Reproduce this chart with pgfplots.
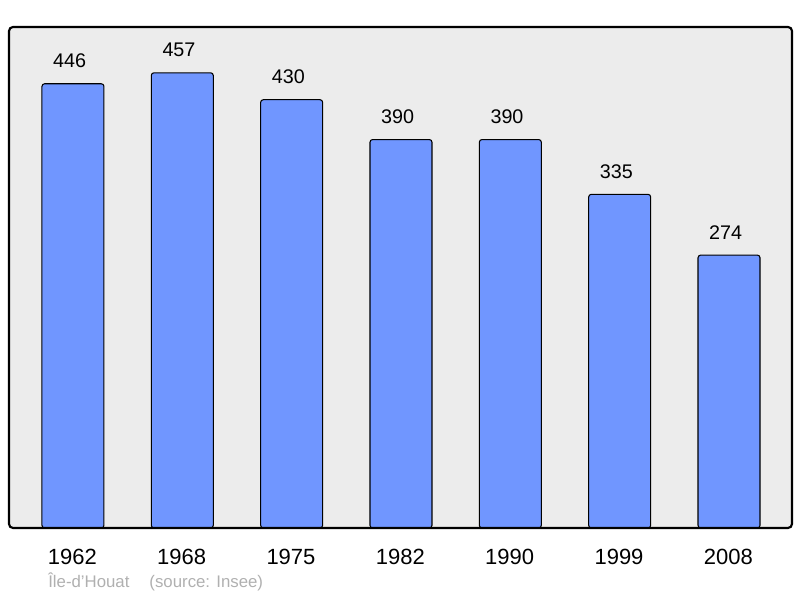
\documentclass[border=0pt]{standalone}
\usepackage{pgfplots}
\pgfplotsset{compat=1.18}
\usepackage{fontspec}
\setmainfont{Liberation Sans}
\definecolor{barblue}{RGB}{112,150,255}
\definecolor{bggray}{RGB}{236,236,236}
\definecolor{footgray}{RGB}{176,176,176}
\begin{document}
\begin{tikzpicture}
% page is 800x598 px at 0.75pt per px
\path[use as bounding box] (-6.75pt,-52.5pt) rectangle (593.25pt,396pt);
\begin{axis}[
    at={(0,0)}, anchor=south west,
    scale only axis,
    width=587.25pt,
    height=375.75pt,
    ymin=0, ymax=503,
    xmin=-0.585, xmax=6.576,
    ybar,
    bar width=46.5pt,
    axis line style={draw=none},
    axis background/.style={fill=bggray},
    clip=false,
    ytick=\empty,
    xtick=data,
    xticklabels={1962,1968,1975,1982,1990,1999,2008},
    major tick length=0pt,
    xticklabel style={font=\fontsize{16.5}{18}\selectfont, anchor=base, yshift=-27.75pt, xshift=-0.5pt, inner sep=0pt},
    /pgf/number format/assume math mode=true,
    nodes near coords,
    every node near coord/.append style={font=\fontsize{14.8}{16}\selectfont, anchor=base, inner sep=0pt, yshift=12pt, xshift=-2.5pt},
]
\addplot[fill=barblue, draw=black, line width=0.8pt, rounded corners=2pt] coordinates {
 (0,446) (1,457) (2,430) (3,390) (4,390) (5,335) (6,274)
};
\draw[black, line width=1.6pt, rounded corners=3pt] (rel axis cs:0,0) rectangle (rel axis cs:1,1);
\end{axis}
\node[anchor=base west, inner sep=0pt, text=footgray, font=\fontsize{12.6}{14}\selectfont] at (29.25pt,-45pt) {Île-d\char"27 Houat\hspace{15pt}(source: Insee)};
\end{tikzpicture}
\end{document}
